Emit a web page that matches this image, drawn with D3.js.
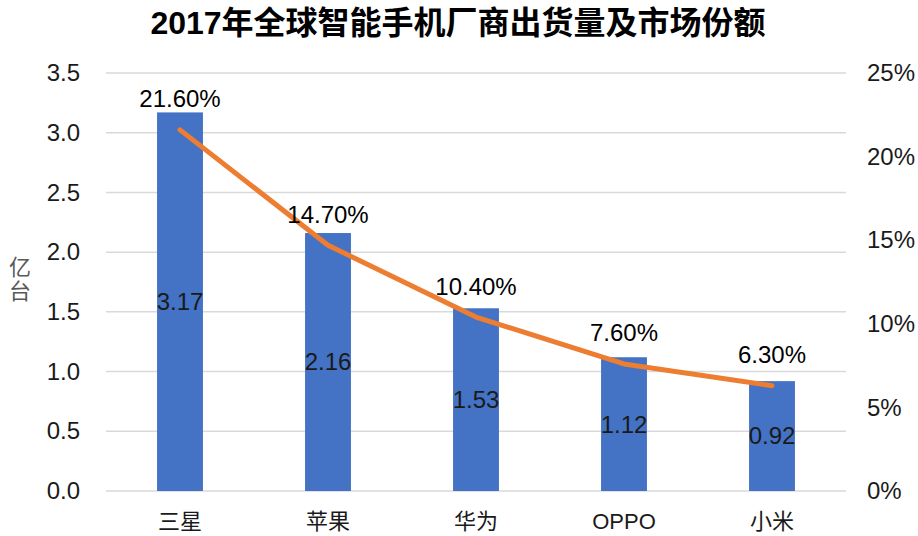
<!DOCTYPE html>
<html>
<head>
<meta charset="utf-8">
<script src="https://cdn.jsdelivr.net/npm/d3@7"></script>
<style>
  body { margin: 0; background: #fff; }
  text { font-family: "Liberation Sans", Arial, "Noto Sans CJK SC", sans-serif; }
</style>
</head>
<body>
<div id="chart"></div>
<script>
const brands = ['三星', '苹果', '华为', 'OPPO', '小米'];
const shipments = [3.17, 2.16, 1.53, 1.12, 0.92];
const shares = [21.6, 14.7, 10.4, 7.6, 6.3];
const leftTicks = [0, 0.5, 1, 1.5, 2, 2.5, 3, 3.5];
const rightTicks = [0, 5, 10, 15, 20, 25];

const W = 918;
const H = 536;
const margin = { top: 73, right: 72, bottom: 45, left: 106 };
const width = W - margin.left - margin.right;
const height = H - margin.top - margin.bottom;

const svg = d3.select('#chart').append('svg')
  .attr('width', W)
  .attr('height', H);

svg.append('text')
  .attr('x', 458)
  .attr('y', 34)
  .attr('text-anchor', 'middle')
  .style('font-size', '32px')
  .style('font-weight', 'bold')
  .style('fill', '#000')
  .text('2017年全球智能手机厂商出货量及市场份额');

const g = svg.append('g')
  .attr('transform', `translate(${margin.left}, ${margin.top})`);

const x = d3.scaleBand().domain(brands).range([0, width]).paddingInner(0.69).paddingOuter(0.345);
const y = d3.scaleLinear().domain([0, 3.5]).range([height, 0]);
const y2 = d3.scaleLinear().domain([0, 25]).range([height, 0]);

// gridlines
g.selectAll('.grid')
  .data(leftTicks)
  .enter().append('line')
  .attr('x1', 0)
  .attr('x2', width)
  .attr('y1', d => y(d))
  .attr('y2', d => y(d))
  .style('stroke', '#d9d9d9')
  .style('stroke-width', 1.5);

// left axis
const leftAxis = g.append('g')
  .call(d3.axisLeft(y).tickValues(leftTicks).tickFormat(d3.format('.1f')).tickSize(0).tickPadding(26));
leftAxis.select('.domain').remove();
leftAxis.selectAll('text')
  .style('font-size', '24px')
  .style('fill', '#1a1a1a')
  .style('font-family', '"Liberation Sans", Arial, sans-serif');

// right axis
const rightAxis = g.append('g')
  .attr('transform', `translate(${width}, 0)`)
  .call(d3.axisRight(y2).tickValues(rightTicks).tickFormat(d => `${d}%`).tickSize(0).tickPadding(21));
rightAxis.select('.domain').remove();
rightAxis.selectAll('text')
  .style('font-size', '24px')
  .style('fill', '#1a1a1a')
  .style('font-family', '"Liberation Sans", Arial, sans-serif');

// bottom axis
const bottomAxis = g.append('g')
  .attr('transform', `translate(0, ${height})`)
  .call(d3.axisBottom(x).tickSize(0).tickPadding(22));
bottomAxis.select('.domain').remove();
bottomAxis.selectAll('text')
  .style('font-size', '22px')
  .style('fill', '#1a1a1a');

// y axis label
svg.append('text')
  .attr('text-anchor', 'middle')
  .style('font-size', '22px')
  .style('fill', '#595959')
  .selectAll('tspan')
  .data(['亿', '台'])
  .enter().append('tspan')
  .attr('x', 20)
  .attr('y', (d, i) => 275 + i * 24)
  .text(d => d);

// bars
g.selectAll('.bar')
  .data(shipments)
  .enter().append('rect')
  .attr('class', 'bar')
  .attr('x', (d, i) => x(brands[i]))
  .attr('width', x.bandwidth())
  .attr('y', d => y(d))
  .attr('height', d => height - y(d))
  .style('fill', '#4472c4');

// line
const line = d3.line()
  .x((d, i) => x(brands[i]) + x.bandwidth() / 2)
  .y(d => y2(d));

g.append('path')
  .datum(shares)
  .attr('d', line)
  .style('fill', 'none')
  .style('stroke', '#ed7d31')
  .style('stroke-width', 5)
  .style('stroke-linecap', 'round')
  .style('stroke-linejoin', 'round');

// bar value labels
g.selectAll('.barLabel')
  .data(shipments)
  .enter().append('text')
  .attr('x', (d, i) => x(brands[i]) + x.bandwidth() / 2)
  .attr('y', d => (y(d) + height) / 2)
  .attr('dy', '0.35em')
  .attr('text-anchor', 'middle')
  .style('font-size', '24px')
  .style('fill', '#1a1a1a')
  .text(d => d.toFixed(2));

// share labels
g.selectAll('.shareLabel')
  .data(shares)
  .enter().append('text')
  .attr('x', (d, i) => x(brands[i]) + x.bandwidth() / 2)
  .attr('y', d => y2(d) - 31)
  .attr('dy', '0.35em')
  .attr('text-anchor', 'middle')
  .style('font-size', '24px')
  .style('fill', '#000')
  .text(d => `${d.toFixed(2)}%`);
</script>
</body>
</html>
